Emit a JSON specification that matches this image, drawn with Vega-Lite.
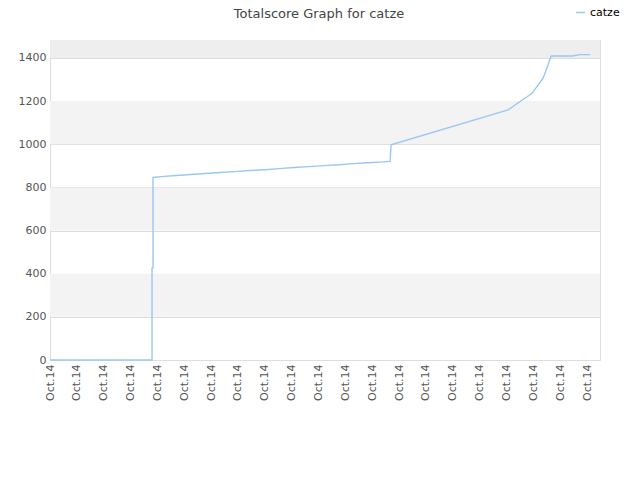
{
  "$schema": "https://vega.github.io/schema/vega-lite/v6.json",
  "width": 550,
  "height": 320,
  "autosize": "none",
  "padding": {"left": 50, "top": 40, "right": 40, "bottom": 120},
  "config": {
    "font": "DejaVu Sans",
    "view": {"stroke": "#dddddd"},
    "axis": {"labelFont": "DejaVu Sans", "labelColor": "#555555", "labelFontSize": 11}
  },
  "title": {
    "text": "Totalscore Graph for catze",
    "fontSize": 13,
    "fontWeight": "normal",
    "color": "#444444",
    "anchor": "middle",
    "dx": -6,
    "offset": -14
  },
  "datasets": {
    "bands": [
      {"lo": 200, "hi": 400, "shade": "a"},
      {"lo": 600, "hi": 800, "shade": "a"},
      {"lo": 1000, "hi": 1200, "shade": "a"},
      {"lo": 1400, "hi": 1483, "shade": "b"}
    ],
    "score": [
      {"i": 0, "v": 0, "s": "catze"},
      {"i": 3.799, "v": 0, "s": "catze"},
      {"i": 3.799, "v": 427, "s": "catze"},
      {"i": 3.836, "v": 427, "s": "catze"},
      {"i": 3.836, "v": 846, "s": "catze"},
      {"i": 4.134, "v": 850, "s": "catze"},
      {"i": 4.693, "v": 855, "s": "catze"},
      {"i": 5.251, "v": 860, "s": "catze"},
      {"i": 5.773, "v": 864, "s": "catze"},
      {"i": 6.331, "v": 869, "s": "catze"},
      {"i": 6.890, "v": 873, "s": "catze"},
      {"i": 7.449, "v": 878, "s": "catze"},
      {"i": 8.007, "v": 882, "s": "catze"},
      {"i": 8.529, "v": 887, "s": "catze"},
      {"i": 9.088, "v": 892, "s": "catze"},
      {"i": 9.646, "v": 896, "s": "catze"},
      {"i": 10.205, "v": 901, "s": "catze"},
      {"i": 10.764, "v": 905, "s": "catze"},
      {"i": 11.285, "v": 910, "s": "catze"},
      {"i": 11.844, "v": 914, "s": "catze"},
      {"i": 12.402, "v": 918, "s": "catze"},
      {"i": 12.663, "v": 921, "s": "catze"},
      {"i": 12.700, "v": 997, "s": "catze"},
      {"i": 17.058, "v": 1159, "s": "catze"},
      {"i": 17.505, "v": 1198, "s": "catze"},
      {"i": 17.952, "v": 1236, "s": "catze"},
      {"i": 18.361, "v": 1306, "s": "catze"},
      {"i": 18.547, "v": 1368, "s": "catze"},
      {"i": 18.659, "v": 1409, "s": "catze"},
      {"i": 19.441, "v": 1409, "s": "catze"},
      {"i": 19.739, "v": 1415, "s": "catze"},
      {"i": 20.112, "v": 1415, "s": "catze"}
    ]
  },
  "layer": [
    {
      "data": {"name": "bands"},
      "mark": {"type": "rect"},
      "encoding": {
        "y": {"field": "lo", "type": "quantitative", "scale": {"domain": [0, 1483], "nice": false}},
        "y2": {"field": "hi"},
        "fill": {"field": "shade", "type": "nominal", "scale": {"domain": ["a", "b"], "range": ["#f3f3f3", "#eeeeee"]}, "legend": null}
      }
    },
    {
      "data": {"name": "score"},
      "mark": {"type": "line", "strokeWidth": 1.4, "interpolate": "linear"},
      "encoding": {
        "x": {
          "field": "i", "type": "quantitative",
          "scale": {"domain": [0, 20.48], "nice": false, "zero": false},
          "axis": {
            "title": null, "values": [0,1,2,3,4,5,6,7,8,9,10,11,12,13,14,15,16,17,18,19,20],
            "labelExpr": "'Oct.14'", "labelAngle": -90, "labelAlign": "right", "labelBaseline": "middle",
            "ticks": false, "domain": false, "grid": false, "labelPadding": 4, "labelFlush": false, "labelOverlap": false
          }
        },
        "y": {
          "field": "v", "type": "quantitative",
          "scale": {"domain": [0, 1483], "nice": false},
          "axis": {
            "title": null, "values": [0,200,400,600,800,1000,1200,1400], "format": "d",
            "ticks": false, "domain": false, "grid": true, "gridColor": "#dddddd", "labelPadding": 4
          }
        },
        "stroke": {
          "field": "s", "type": "nominal",
          "scale": {"range": ["#99c7f4"]},
          "legend": {
            "title": null, "orient": "none", "legendX": 525, "legendY": -33,
            "labelFontSize": 11, "labelColor": "#000000", "symbolType": "stroke", "symbolSize": 80, "symbolStrokeWidth": 1.5
          }
        }
      }
    }
  ]
}
